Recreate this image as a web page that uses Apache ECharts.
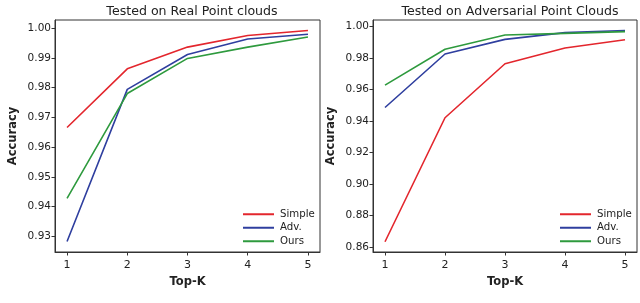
<!DOCTYPE html>
<html><head><meta charset="utf-8">
<script src="https://cdn.jsdelivr.net/npm/echarts@6/dist/echarts.min.js"></script>
<style>html,body{margin:0;padding:0;background:#fff}#c{width:640px;height:303px}</style>
</head><body><div id="c"></div>
<script>
const topK = [1, 2, 3, 4, 5];
const seriesNames = ['Simple', 'Adv.', 'Ours'];
const realSimple = [0.9666, 0.9863, 0.9936, 0.9975, 0.9992];
const realAdv    = [0.9283, 0.9794, 0.9911, 0.9963, 0.9979];
const realOurs   = [0.9428, 0.9780, 0.9898, 0.9936, 0.9970];
const advSimple  = [0.8633, 0.9421, 0.9764, 0.9864, 0.9917];
const advAdv     = [0.9486, 0.9826, 0.9919, 0.9962, 0.9975];
const advOurs    = [0.9628, 0.9856, 0.9947, 0.9957, 0.9968];
const yTicksReal = [0.93, 0.94, 0.95, 0.96, 0.97, 0.98, 0.99, 1.00];
const yTicksAdv  = [0.86, 0.88, 0.90, 0.92, 0.94, 0.96, 0.98, 1.00];
const titles = ['Tested on Real Point clouds', 'Tested on Adversarial Point Clouds'];
const colors = ['#e3262d', '#2f3f9f', '#2e9a3e'];

const FONT = 'DejaVu Sans';
const txt = '#222';

function xAx(gi) {
  return {
    gridIndex: gi, type: 'value', min: 0.8, max: 5.2,
    name: 'Top-K', nameLocation: 'middle', nameGap: 20,
    nameTextStyle: {fontFamily: FONT, fontSize: 11.5, fontWeight: 'bold', color: txt},
    axisLine: {show: true, lineStyle: {color: '#333', width: 1}},
    axisTick: {show: true, length: 3.5, lineStyle: {color: '#333'}, customValues: topK},
    axisLabel: {fontFamily: FONT, fontSize: 11, color: txt, margin: 8, customValues: topK},
    splitLine: {show: false}
  };
}
function yAx(gi, min, max, ticks) {
  return {
    gridIndex: gi, type: 'value', min: min, max: max,
    name: 'Accuracy', nameLocation: 'middle', nameRotate: 90, nameGap: 36,
    nameTextStyle: {fontFamily: FONT, fontSize: 11.5, fontWeight: 'bold', color: txt},
    axisLine: {show: true, lineStyle: {color: '#333', width: 1}},
    axisTick: {show: true, length: 3.5, lineStyle: {color: '#333'}, customValues: ticks},
    axisLabel: {fontFamily: FONT, fontSize: 10.5, color: txt, margin: 4, customValues: ticks,
      formatter: v => v.toFixed(2)},
    splitLine: {show: false}
  };
}
function ser(name, data, xi, color) {
  return {
    name: name, type: 'line', xAxisIndex: xi, yAxisIndex: xi,
    data: topK.map((k, i) => [k, data[i]]),
    symbol: 'none', lineStyle: {width: 1.6, color: color}, itemStyle: {color: color},
    animation: false
  };
}
function legend(left) {
  return {
    left: left, top: 208, orient: 'vertical', itemWidth: 31, itemHeight: 2, itemGap: 1,
    icon: 'rect', data: seriesNames,
    textStyle: {fontFamily: FONT, fontSize: 10.2, color: txt, lineHeight: 12.5, padding: [0, 0, 0, 1]},
    padding: 0, selectedMode: false
  };
}

const chart = echarts.init(document.getElementById('c'), null, {renderer: 'canvas'});
chart.setOption({
  animation: false,
  title: [
    {text: titles[0], left: 187, top: 0, textAlign: 'center', textStyle: {fontFamily: FONT, fontSize: 12.6, fontWeight: 'normal', color: txt}},
    {text: titles[1], left: 505, top: 0, textAlign: 'center', textStyle: {fontFamily: FONT, fontSize: 12.6, fontWeight: 'normal', color: txt}}
  ],
  legend: [legend(243), legend(560)],
  grid: [
    {left: 55, right: 320, top: 20, bottom: 51, show: true, borderColor: '#333', borderWidth: 1, backgroundColor: 'transparent'},
    {left: 373, right: 3, top: 20, bottom: 51, show: true, borderColor: '#333', borderWidth: 1, backgroundColor: 'transparent'}
  ],
  xAxis: [xAx(0), xAx(1)],
  yAxis: [yAx(0, 0.9248, 1.0027, yTicksReal), yAx(1, 0.8568, 1.0042, yTicksAdv)],
  series: [
    ser(seriesNames[0], realSimple, 0, colors[0]),
    ser(seriesNames[1], realAdv, 0, colors[1]),
    ser(seriesNames[2], realOurs, 0, colors[2]),
    ser(seriesNames[0], advSimple, 1, colors[0]),
    ser(seriesNames[1], advAdv, 1, colors[1]),
    ser(seriesNames[2], advOurs, 1, colors[2])
  ]
});
</script></body></html>
